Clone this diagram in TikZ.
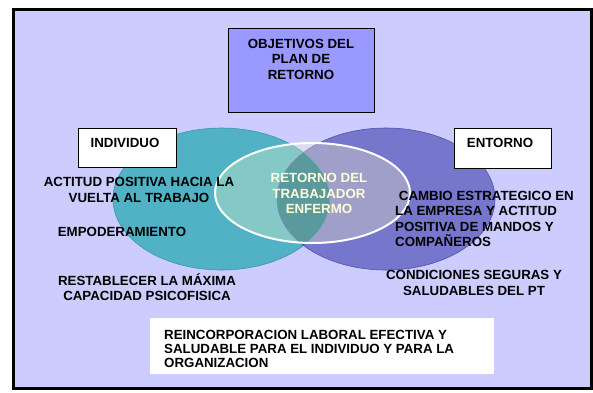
\documentclass[tikz,border=0pt]{standalone}
\usepackage{fontspec}
\setmainfont{Liberation Sans}[BoldFont={Liberation Sans Bold}]
\usetikzlibrary{positioning}
\definecolor{fondo}{RGB}{204,204,255}
\definecolor{objfill}{RGB}{153,153,255}
\definecolor{tealc}{RGB}{80,178,196}
\definecolor{tealborde}{RGB}{60,150,170}
\definecolor{azulc}{RGB}{118,118,204}
\definecolor{azulborde}{RGB}{80,80,165}
\definecolor{lente}{RGB}{20,110,140}
\definecolor{velo}{RGB}{255,255,200}
\definecolor{crema}{RGB}{255,255,215}
\begin{document}
\begin{tikzpicture}[x=1pt,y=-1pt]
\tikzstyle{caja}=[draw=black,line width=0.8pt,rectangle,inner sep=0pt]
\tikzstyle{txt}=[font=\bfseries\fontsize{13.3}{15.5}\selectfont,inner sep=0pt]
\useasboundingbox (0,0) rectangle (593,392);
\draw[line width=3pt,fill=fondo] (13,9) rectangle (591,388);

% cajas de arriba
\node[caja,fill=objfill,minimum width=146pt,minimum height=84pt] at (301,70) (obj) {};
\node[txt,align=center,below=11pt of obj.north] (objtxt) {OBJETIVOS DEL\\PLAN DE\\RETORNO};

% elipses
\fill[tealc] (221.5,199) ellipse [x radius=108.5, y radius=71];
\fill[azulc] (386,199) ellipse [x radius=109, y radius=71];
\begin{scope}
\clip (221.5,199) ellipse [x radius=108.5, y radius=71];
\fill[lente] (386,199) ellipse [x radius=109, y radius=71];
\end{scope}
\draw[tealborde,line width=0.6pt] (221.5,199) ellipse [x radius=108.5, y radius=71];
\draw[azulborde,line width=0.6pt] (386,199) ellipse [x radius=109, y radius=71];
\draw[white,line width=2pt,fill=velo,fill opacity=0.3] (312.5,193) ellipse [x radius=97.5, y radius=50];
\node[txt,align=center,text=crema] at (319,193.5) (retorno) {RETORNO DEL\\TRABAJADOR\\ENFERMO};

% individuo
\node[caja,fill=white,minimum width=98pt,minimum height=39pt] at (127,147.5) (indiv) {};
\node[txt] at (125,143) (indivtxt) {INDIVIDUO};
\node[txt,align=center] at (139,190) (actitud) {ACTITUD POSITIVA HACIA LA\\VUELTA AL TRABAJO};
\node[txt] at (122,232) (empod) {EMPODERAMIENTO};
\node[txt,align=center] at (147,287) (restab) {RESTABLECER LA MÁXIMA\\CAPACIDAD PSICOFISICA};

% entorno
\node[caja,fill=white,minimum width=97pt,minimum height=40pt] at (502.5,148) (entorno) {};
\node[txt] at (500,143) (entornotxt) {ENTORNO};
\node[txt,align=left,anchor=west] at (395,219) (cambio) {\ CAMBIO ESTRATEGICO EN\\LA EMPRESA Y ACTITUD\\POSITIVA DE MANDOS Y\\COMPAÑEROS};
\node[txt,align=center] at (474,283) (condic) {CONDICIONES SEGURAS Y\\SALUDABLES DEL PT};

% abajo
\node[fill=white,minimum width=344pt,minimum height=56pt,inner sep=0pt] at (322,346) (reinc) {};
\node[txt,font=\bfseries\fontsize{13.3}{14.2}\selectfont,align=left,anchor=west] at (164,349) (reinctxt) {REINCORPORACION LABORAL EFECTIVA Y\\SALUDABLE PARA EL INDIVIDUO Y PARA LA\\ORGANIZACION};
\end{tikzpicture}
\end{document}
